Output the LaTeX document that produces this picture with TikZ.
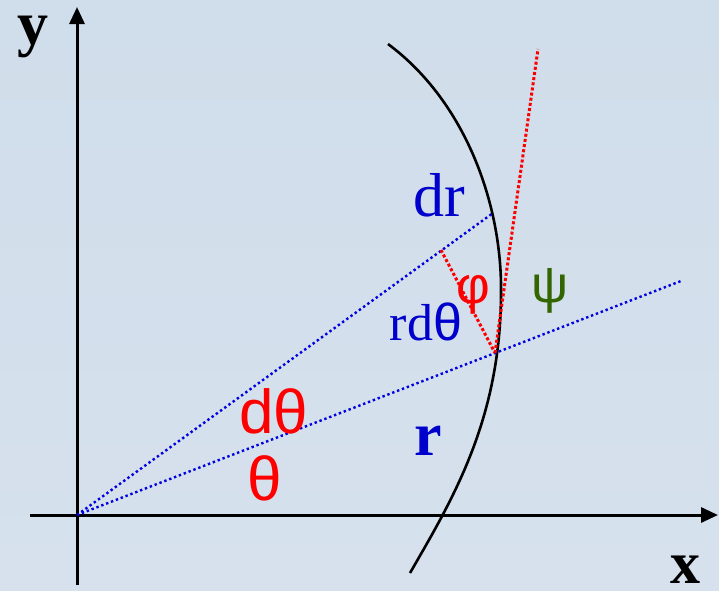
\documentclass[tikz,border=0pt]{standalone}
\usepackage{fontspec}
\setmainfont{Liberation Serif}
\newfontfamily\sansf{Liberation Sans}
\usetikzlibrary{arrows.meta}
\definecolor{bgt}{RGB}{208,221,234}
\definecolor{bgb}{RGB}{214,225,237}
\definecolor{tblue}{RGB}{0,0,204}
\definecolor{dblue}{RGB}{0,0,225}
\definecolor{tred}{RGB}{255,0,0}
\definecolor{tgreen}{RGB}{51,102,0}
\tikzset{
  axis/.style={line width=3pt,-{Triangle[length=17pt,width=15pt]}},
  bluedot/.style={dblue,line width=2.4pt,dash pattern=on 2.4pt off 2.8pt},
  reddot/.style={tred,line width=3pt,dash pattern=on 3pt off 2.2pt},
  lab/.style={inner sep=0pt,anchor=base},
}
\begin{document}
\begin{tikzpicture}[x=1pt,y=-1pt]
\useasboundingbox (0,0) rectangle (719,590);
\shade[top color=bgt,bottom color=bgb] (0,0) rectangle (719,590);
% coordinates
\coordinate (O) at (77,515);
\coordinate (Yb) at (77,585);
\coordinate (Yt) at (77,7);
\coordinate (Xl) at (30,515);
\coordinate (Xr) at (718,515);
\coordinate (A) at (493,213);
\coordinate (L) at (681,281);
\coordinate (P) at (495,353);
\coordinate (Q) at (441,250);
\coordinate (T) at (538,49);
\coordinate (C0) at (388,44);
\coordinate (C1) at (501,292);
\coordinate (C2) at (410,573);
% axes
\draw[axis] (Yb) -- (Yt);
\draw[axis] (Xl) -- (Xr);
% curve
\draw[line width=2.6pt] (C0) .. controls (466,102) and (502,205) .. (C1)
  .. controls (501,420) and (452,500) .. (C2);
% dotted lines
\draw[bluedot] (O) -- (A);
\draw[bluedot] (O) -- (L);
\draw[reddot] (Q) -- (P);
\draw[reddot] (P) -- (T);
% labels
\node[lab,font=\fontsize{62}{70}\selectfont\bfseries] (ly) at (33,44) {y};
\node[lab,font=\fontsize{60}{70}\selectfont\bfseries] (lx) at (685,583) {x};
\node[lab,tblue,font=\fontsize{62}{70}\selectfont] (ldr) at (439,216) {dr};
\node[lab,tblue,font=\fontsize{52}{60}\selectfont] (lrdt) at (426,340) {rd{\sansf θ}};
\node[lab,tred,font=\fontsize{52}{60}\selectfont\sansf] (lphi) at (473,303) {φ};
\node[lab,tgreen,font=\fontsize{52}{60}\selectfont\sansf] (lpsi) at (550,302) {ψ};
\node[lab,tred,font=\fontsize{62}{70}\selectfont\sansf] (ldt) at (274,433) {dθ};
\node[lab,tred,font=\fontsize{62}{70}\selectfont\sansf] (lt) at (265,500) {θ};
\node[lab,tblue,font=\fontsize{62}{70}\selectfont\bfseries] (lr) at (428,455) {r};
\end{tikzpicture}
\end{document}
